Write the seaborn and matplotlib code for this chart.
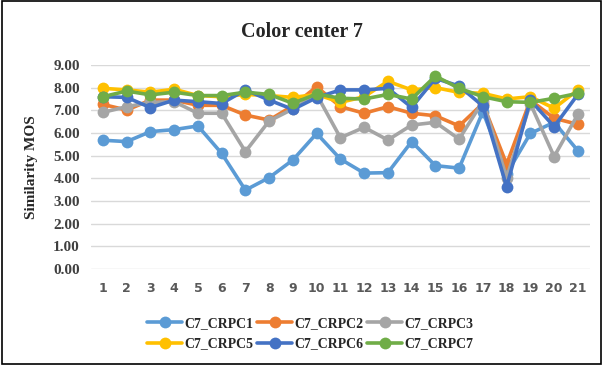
import matplotlib
matplotlib.use("Agg")
import matplotlib.pyplot as plt
import seaborn as sns
import pandas as pd
from matplotlib.patches import Rectangle

images = list(range(1, 22))
series_names = ["C7_CRPC1", "C7_CRPC2", "C7_CRPC3", "C7_CRPC5", "C7_CRPC6", "C7_CRPC7"]

crpc1 = [5.68, 5.62, 6.06, 6.15, 6.31, 5.10, 3.48, 4.03, 4.81, 5.98, 4.85,
         4.23, 4.25, 5.62, 4.56, 4.45, 6.94, 4.20, 5.98, 6.47, 5.22]
crpc2 = [7.26, 7.01, 7.45, 7.45, 7.22, 7.22, 6.79, 6.57, 7.20, 8.04, 7.16,
         6.87, 7.16, 6.87, 6.76, 6.31, 7.30, 4.62, 7.45, 6.65, 6.38]
crpc3 = [6.91, 7.16, 7.35, 7.38, 6.87, 6.87, 5.18, 6.53, 7.06, 7.70, 5.79,
         6.25, 5.69, 6.35, 6.47, 5.73, 7.40, 4.03, 7.30, 4.96, 6.82]
crpc5 = [7.97, 7.90, 7.80, 7.93, 7.65, 7.60, 7.70, 7.65, 7.57, 7.70, 7.35,
         7.60, 8.28, 7.90, 8.00, 7.79, 7.75, 7.50, 7.60, 7.09, 7.90]
crpc6 = [7.60, 7.57, 7.12, 7.45, 7.38, 7.30, 7.90, 7.45, 7.04, 7.56, 7.90,
         7.90, 7.97, 7.13, 8.41, 8.07, 7.19, 3.63, 7.45, 6.28, 7.70]
crpc7 = [7.60, 7.85, 7.68, 7.80, 7.65, 7.65, 7.80, 7.70, 7.31, 7.72, 7.53,
         7.50, 7.70, 7.50, 8.51, 7.97, 7.60, 7.38, 7.35, 7.53, 7.75]

y_ticks = [0, 1, 2, 3, 4, 5, 6, 7, 8, 9]

colors = ["#5B9BD5", "#ED7D31", "#A5A5A5", "#FFC000", "#4472C4", "#70AD47"]

frames = []
for name, vals in zip(series_names, [crpc1, crpc2, crpc3, crpc5, crpc6, crpc7]):
    frames.append(pd.DataFrame({"Image": images, "MOS": vals, "Series": name}))
df = pd.concat(frames, ignore_index=True)

sns.set_theme(style="white")
plt.rcParams["font.family"] = ["Liberation Serif", "DejaVu Serif"]

fig = plt.figure(figsize=(6.03, 3.65), dpi=100)
ax = fig.add_axes([0.151, 0.263, 0.827, 0.559])

sns.lineplot(data=df, x="Image", y="MOS", hue="Series", hue_order=series_names,
             palette=colors, marker="o", markersize=8.5, markeredgewidth=0,
             linewidth=2.6, dashes=False, ax=ax, legend=True)

ax.set_xlim(0.5, 21.5)
ax.set_ylim(0, 9)
ax.set_xticks(images)
ax.set_xticklabels([str(i) for i in images], fontsize=9, fontweight="bold",
                   family="DejaVu Sans", color="#595959")
ax.set_yticks(y_ticks)
ax.set_yticklabels([f"{v:.2f}" for v in y_ticks], fontsize=11, fontweight="bold",
                   color="#404040")
ax.tick_params(axis="x", length=0, pad=9)
ax.tick_params(axis="y", length=0, pad=8)
ax.yaxis.grid(True, color="#D9D9D9", linewidth=1)
ax.set_axisbelow(True)
for side in ["top", "right", "left", "bottom"]:
    ax.spines[side].set_visible(False)

ax.set_xlabel("")
ax.set_ylabel("Similarity MOS", fontsize=11, fontweight="bold", labelpad=11)

# row-wise ordering for a 3-column legend
handles, labels = ax.get_legend_handles_labels()
ax.get_legend().remove()
order = [0, 3, 1, 4, 2, 5]
fig.legend([handles[i] for i in order], [labels[i] for i in order],
           loc="center", bbox_to_anchor=(0.515, 0.086),
           ncol=3, frameon=False, handlelength=2.5,
           handletextpad=0.2, columnspacing=0.25, labelspacing=0.55,
           prop={"weight": "bold", "size": 10})

fig.suptitle("Color center 7", y=0.94, fontsize=14.5, fontweight="bold")

fig.patches.append(Rectangle((0.003, 0.003), 0.994, 0.994, transform=fig.transFigure,
                             fill=False, edgecolor="black", linewidth=1.2))

fig.savefig("out.png", dpi=100)
